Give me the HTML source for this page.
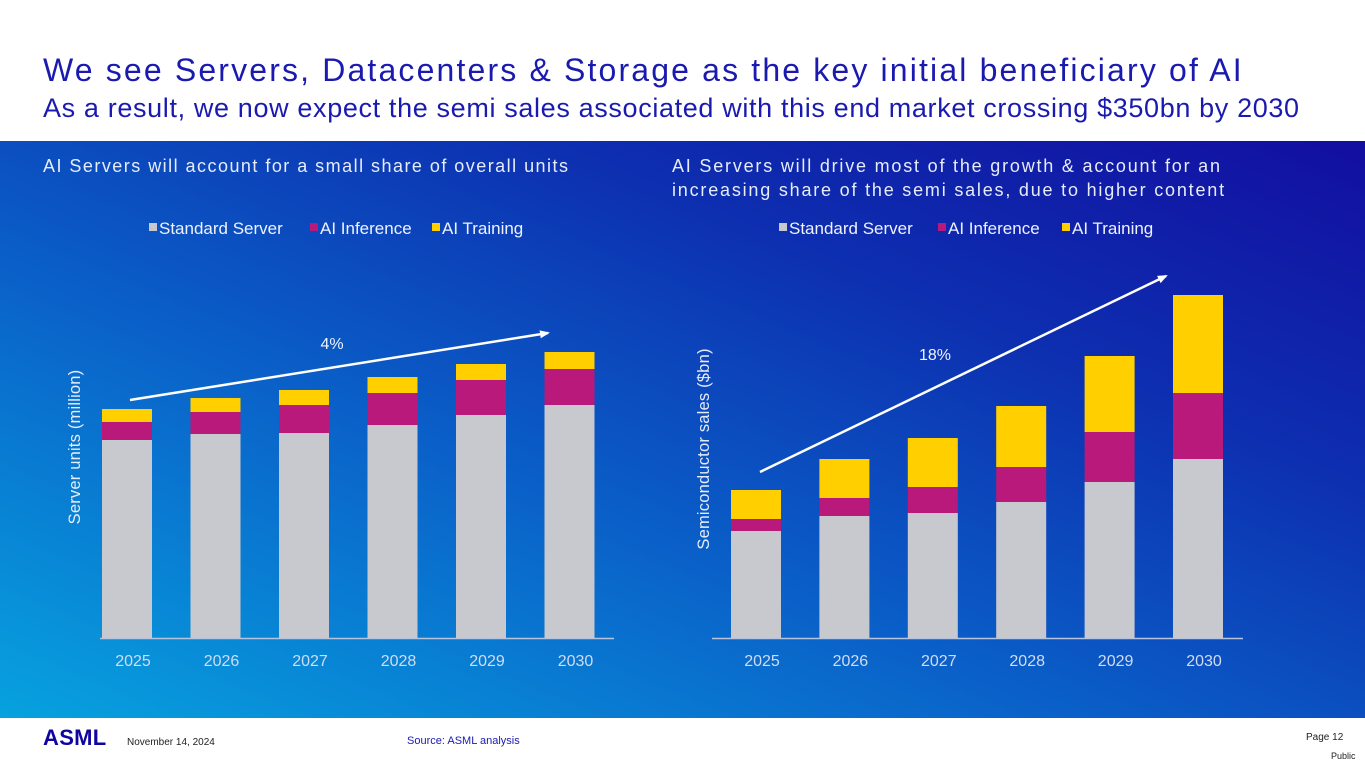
<!DOCTYPE html>
<html><head><meta charset="utf-8"><style>
body{margin:0;width:1365px;height:768px;overflow:hidden;font-family:"Liberation Sans",sans-serif;background:#fff;position:relative}
.abs{position:absolute}
</style></head><body>
<div class="abs" style="left:43px;top:52px;font-size:32px;color:#1a1ab0;letter-spacing:2.15px;white-space:nowrap">We see Servers, Datacenters &amp; Storage as the key initial beneficiary of AI</div>
<div class="abs" style="left:43px;top:93px;font-size:27px;color:#1a1ab0;letter-spacing:0.64px;white-space:nowrap">As a result, we now expect the semi sales associated with this end market crossing $350bn by 2030</div>
<div class="abs" style="left:0;top:141px;width:1365px;height:577px;background:linear-gradient(to top right,#07a2df 0%,#0a5fc8 40%,#0d2fb0 70%,#130ea0 100%)"></div>
<svg class="abs" style="left:0;top:0" width="1365" height="768" id="chart">
<defs><marker id="ah" markerWidth="10" markerHeight="10" refX="8" refY="5" orient="auto" markerUnits="userSpaceOnUse"><path d="M0,1 L10,5 L0,9 Z" fill="#fff"/></marker></defs>
<text x="43" y="172" fill="#e6ecf8" font-size="18" letter-spacing="1.47">AI Servers will account for a small share of overall units</text>
<text x="672" y="172" fill="#e6ecf8" font-size="18" letter-spacing="1.8">AI Servers will drive most of the growth &amp; account for an</text>
<text x="672" y="196" fill="#e6ecf8" font-size="18" letter-spacing="1.8">increasing share of the semi sales, due to higher content</text>
<g id="plots"></g>
</svg>
<div class="abs" style="left:43px;top:725px;font-size:22px;font-weight:bold;color:#10069f;letter-spacing:0.3px">ASML</div>
<div class="abs" style="left:127px;top:737px;font-size:10px;color:#222">November 14, 2024</div>
<div class="abs" style="left:407px;top:735px;font-size:11px;color:#1a1ab0">Source: ASML analysis</div>
<div class="abs" style="left:1306px;top:732px;font-size:10px;color:#222">Page 12</div>
<div class="abs" style="left:1331px;top:751px;font-size:9px;color:#222">Public</div>
<script>
const years=["2025","2026","2027","2028","2029","2030"];
const seriesNames=["Standard Server","AI Inference","AI Training"];
const unitsStd=[198,204,205,213,223,233];
const unitsInf=[18,22,28,32,35,36];
const unitsTrain=[13,14,15,16,16,17];
const salesStd=[107,122,125,136,156,179];
const salesInf=[12,18,26,35,50,66];
const salesTrain=[29,39,49,61,76,98];
const colors=["#c8c9ce","#b8197a","#ffcf00"];
const NS="http://www.w3.org/2000/svg";
const g=document.getElementById('plots');
function mk(t,a){const e=document.createElementNS(NS,t);for(const k in a)e.setAttribute(k,a[k]);g.appendChild(e);return e;}
function drawChart(cfg){
  const base=638, k=1;
  const y=v=>base-v*k;
  const xc=i=>cfg.x0+cfg.slot*i;
  const axis=mk('line',{x1:cfg.ax1,x2:cfg.ax2,y1:base+0.5,y2:base+0.5,stroke:'#b8c4dc','stroke-width':1.5});
  
  
  const series=[cfg.std,cfg.inf,cfg.tr];
  years.forEach((yr,i)=>{
    let acc=0;
    series.forEach((s,j)=>{
      const r=mk('rect',{x:xc(i)-25,y:y(acc+s[i]),width:50,height:s[i]*k,fill:colors[j]});
      
      
      acc+=s[i];
    });
    const t=mk('text',{x:xc(i)+6,y:666,'text-anchor':'middle',fill:'#d0dcf2','font-size':16});
    t.textContent=yr;
    
    
  });
  seriesNames.forEach((n,j)=>{
    const lx=cfg.legX[j];
    const sq=mk('rect',{x:lx,y:223,width:8,height:8,fill:colors[j]});
    
    
    const t=mk('text',{x:lx+10,y:234,fill:'#eef2fb','font-size':17});
    t.textContent=n;
    
    
  });
  const yt=mk('text',{x:0,y:0,transform:`translate(${cfg.ytx},${cfg.yty}) rotate(-90)`,'text-anchor':'middle',fill:'#e6ecf8','font-size':16.5,'letter-spacing':0.2});
  yt.textContent=cfg.ytitle;
  
  
  const ar=mk('line',{x1:cfg.arrow[0],y1:cfg.arrow[1],x2:cfg.arrow[2],y2:cfg.arrow[3],stroke:'#fff','stroke-width':2.5,'marker-end':'url(#ah)'});
  
  
  const cl=mk('text',{x:cfg.cagr[0],y:cfg.cagr[1],'text-anchor':'middle',fill:'#f0f4fc','font-size':16});
  cl.textContent=cfg.cagrText;
  
  
}
drawChart({id:'units',x0:127,slot:88.5,ax1:100,ax2:614,std:unitsStd,inf:unitsInf,tr:unitsTrain,legX:[149,310,432],ytx:80,yty:447,ytitle:'Server units (million)',arrow:[130,400,548,333],cagr:[332,349],cagrText:'4%'});
drawChart({id:'sales',x0:756,slot:88.4,ax1:712,ax2:1243,std:salesStd,inf:salesInf,tr:salesTrain,legX:[779,938,1062],ytx:709,yty:449,ytitle:'Semiconductor sales ($bn)',arrow:[760,472,1166,276],cagr:[935,360],cagrText:'18%'});
</script>
</body></html>
